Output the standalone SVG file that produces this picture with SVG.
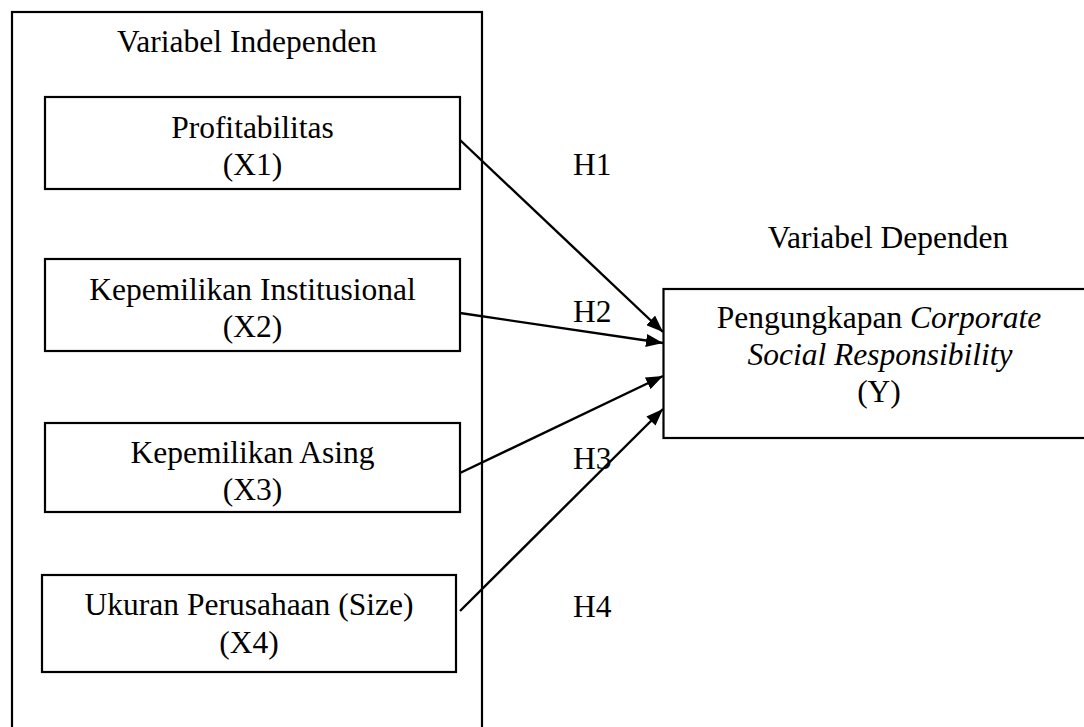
<svg xmlns="http://www.w3.org/2000/svg" width="1084" height="727" viewBox="0 0 1084 727">
<style>
  .box { fill: none; stroke: #000; stroke-width: 2.2; }
  .t { font-family: "Liberation Serif", "Times New Roman", serif; font-size: 31.5px; fill: #000; text-anchor: middle; }
  .h { font-family: "Liberation Serif", "Times New Roman", serif; font-size: 31.5px; fill: #000; }
  .conn { stroke: #000; stroke-width: 2.4; fill: none; marker-end: url(#arrow); }
  .it { font-style: italic; }
</style>
<defs>
  <marker id="arrow" markerUnits="userSpaceOnUse" markerWidth="17" markerHeight="13" refX="17" refY="6.5" orient="auto">
    <path d="M0,0 L17,6.5 L0,13 z" fill="#000"/>
  </marker>
</defs>
<rect width="1084" height="727" fill="#fff"/>
<g id="independen">
  <rect class="box" x="12" y="12" width="470" height="740"/>
  <text class="t" x="247" y="52">Variabel Independen</text>
</g>
<g id="x1">
  <rect class="box" x="45" y="97" width="415" height="92"/>
  <text class="t" x="252.5" y="138">Profitabilitas</text>
  <text class="t" x="252.5" y="175">(X1)</text>
</g>
<g id="x2">
  <rect class="box" x="45" y="259" width="415" height="92"/>
  <text class="t" x="252.5" y="300">Kepemilikan Institusional</text>
  <text class="t" x="252.5" y="337">(X2)</text>
</g>
<g id="x3">
  <rect class="box" x="45" y="423" width="415" height="89"/>
  <text class="t" x="252.5" y="463">Kepemilikan Asing</text>
  <text class="t" x="252.5" y="500">(X3)</text>
</g>
<g id="x4">
  <rect class="box" x="42" y="575" width="414" height="97"/>
  <text class="t" x="249" y="615">Ukuran Perusahaan (Size)</text>
  <text class="t" x="249" y="653">(X4)</text>
</g>
<g id="dependen">
  <text class="t" x="888" y="248">Variabel Dependen</text>
</g>
<g id="y">
  <rect class="box" x="663.5" y="289" width="430" height="149"/>
  <text class="t" x="879" y="328">Pengungkapan <tspan class="it">Corporate</tspan></text>
  <text class="t it" x="880" y="365">Social Responsibility</text>
  <text class="t" x="879" y="402">(Y)</text>
</g>
<g id="connectors">
  <line class="conn" x1="460" y1="140" x2="663" y2="332"/>
  <line class="conn" x1="460" y1="313" x2="663" y2="343"/>
  <line class="conn" x1="460" y1="473" x2="663" y2="376"/>
  <line class="conn" x1="460" y1="611" x2="663" y2="409"/>
</g>
<g id="labels">
  <text class="h" x="573" y="175">H1</text>
  <text class="h" x="573" y="322">H2</text>
  <text class="h" x="573" y="469">H3</text>
  <text class="h" x="573" y="617">H4</text>
</g>
</svg>
